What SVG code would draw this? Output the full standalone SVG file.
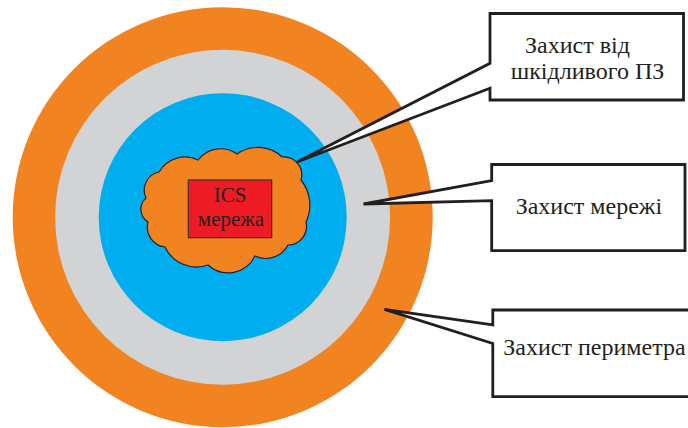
<svg xmlns="http://www.w3.org/2000/svg" width="688" height="428" viewBox="0 0 688 428">
  <style>
    .ring-o { fill: #F28321; }
    .ring-g { fill: #D1D3D4; }
    .ring-b { fill: #00AEEF; }
    .cloud { fill: #F28321; stroke: #231F20; stroke-width: 1.2; }
    .core { fill: #ED1C24; stroke: #4D2A20; stroke-width: 1.2; }
    .callout { fill: #FFFFFF; stroke: #231F20; stroke-width: 2.8; stroke-linejoin: miter; stroke-miterlimit: 10; }
    .t { font-family: 'Liberation Serif', 'DejaVu Serif', serif; fill: #231F20; }
    .lbl { font-size: 24px; }
    .core-t { font-size: 21px; text-anchor: middle; }
  </style>

  <g id="perimeter">
    <circle class="ring-o" cx="222.7" cy="217.2" r="210"/>
  </g>
  <g id="network">
    <circle class="ring-g" cx="222.6" cy="217.3" r="167.5"/>
  </g>
  <g id="malware">
    <circle class="ring-b" cx="222.7" cy="217.2" r="124"/>
  </g>

  <g id="ics-cloud">
    <path class="cloud" d="M146,198 A18.5,18.5 0 0 1 159,172 A30,30 0 0 1 198,160 A28.4,28.4 0 0 1 237,154 A35.6,35.6 0 0 1 282,157 A18,18 0 0 1 301,180 A39.75,39.75 0 0 1 306,222 A18.7,18.7 0 0 1 288,245 A25.1,25.1 0 0 1 255,256 A29.8,29.8 0 0 1 208,265 A34.7,34.7 0 0 1 165,247 A19.8,19.8 0 0 1 148,222 A15,15 0 0 1 146,198 Z"/>
    <rect class="core" x="188.3" y="180" width="83.4" height="57.7"/>
    <text class="t core-t" x="230" y="201.5">ICS</text>
    <text class="t core-t" x="231" y="225.5">мережа</text>
  </g>

  <g id="callout-malware">
    <path class="callout" d="M297,162 L490,63.3 L490,13.5 L683.5,13.5 L683.5,100 L490,100 L490,88.3 Z"/>
    <text class="t lbl" x="525" y="52.7">Захист від</text>
    <text class="t lbl" x="510.7" y="79.3">шкідливого ПЗ</text>
  </g>

  <g id="callout-network">
    <path class="callout" d="M363.5,204 L491.7,180.7 L491.7,164.5 L685,164.5 L685,250.7 L491.7,250.7 L491.7,200.7 Z"/>
    <text class="t lbl" x="515.7" y="214">Захист мережі</text>
  </g>

  <g id="callout-perimeter">
    <path class="callout" d="M384.5,309.3 L492.8,325 L492.8,310 L700,310 L700,396.7 L492.8,396.7 L492.8,343.5 Z"/>
    <text class="t lbl" x="503.3" y="355">Захист периметра</text>
  </g>

  <g id="connectors"></g>
</svg>
